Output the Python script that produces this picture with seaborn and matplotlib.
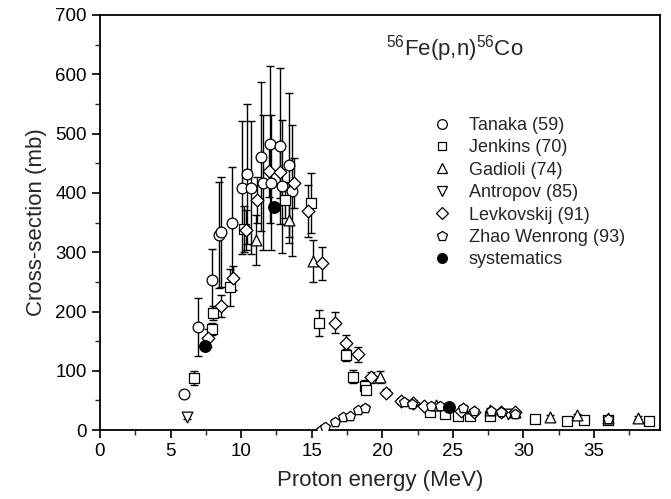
import numpy as np
import pandas as pd
import matplotlib
matplotlib.use("Agg")
import matplotlib.pyplot as plt
from matplotlib.lines import Line2D
from matplotlib.ticker import MultipleLocator
import seaborn as sns

# ---------------- data ----------------
tanaka_x = [5.96, 6.95, 7.95, 8.44, 8.56, 9.34, 10.05, 10.45, 10.73, 11.42, 11.56, 12.05, 12.15, 12.73, 12.93, 13.42, 13.64]
tanaka_y = [61, 174, 253, 329, 334, 349, 409, 432, 409, 461, 417, 482, 417, 479, 411, 447, 404]
tanaka_e = [0, 49, 53, 90, 92, 95, 112, 118, 112, 126, 114, 132, 114, 131, 112, 122, 110]

jenkins_x = [6.67, 7.92, 8.04, 9.22, 10.2, 13.12, 14.94, 15.55, 17.45, 17.92, 18.79, 18.84, 23.4, 24.47, 25.4, 26.24, 27.66, 30.8, 33.1, 34.28, 36.0, 38.9]
jenkins_y = [88, 170, 198, 241, 339, 388, 383, 180, 127, 90, 74, 68, 31, 27, 24, 23, 24, 18, 16, 17, 17, 16]
jenkins_e = [12, 10, 12, 31, 39, 30, 50, 22, 10, 11, 10, 6, 3, 3, 3, 3, 3, 2, 2, 2, 2, 2]

gadioli_x = [11.05, 13.36, 15.08, 19.81, 23.83, 25.72, 27.66, 29.43, 31.9, 33.8, 36.0, 38.1]
gadioli_y = [320, 355, 285, 89, 42, 38, 34, 31, 22, 25, 20, 21]
gadioli_e = [42, 40, 36, 10, 4, 4, 4, 3, 3, 3, 2, 2]

antropov_x = [6.2, 28.9]
antropov_y = [22, 28]
antropov_e = [4, 3]

levk_x = [7.64, 8.56, 9.41, 10.35, 11.11, 12.0, 12.77, 13.76, 14.77, 15.72, 16.64, 17.45, 18.25, 19.22, 20.25, 21.3, 22.15, 22.98, 25.6, 26.48, 28.44, 29.43]
levk_y = [155, 209, 257, 337, 388, 437, 436, 416, 370, 281, 181, 147, 128, 89, 63, 49, 45, 41, 33, 31, 31, 31]
levk_e = [15, 19, 20, 34, 39, 44, 44, 42, 44, 28, 18, 13, 13, 9, 6, 5, 5, 4, 3, 3, 3, 3]

zhao_x = [15.67, 15.96, 16.67, 17.21, 17.73, 18.25, 18.79, 21.56, 22.1, 23.45, 24.1, 25.7, 26.5, 27.7, 28.4, 29.4, 36.0]
zhao_y = [1, 5, 14, 22, 24, 34, 38, 48, 44, 40, 40, 37, 33, 33, 31, 28, 18]
zhao_e = [2, 3, 4, 4, 4, 4, 4, 4, 4, 4, 4, 4, 3, 3, 3, 3, 2]

sys_x = [7.45, 12.3, 24.7]
sys_y = [142, 376, 39]

labels = ["Tanaka (59)", "Jenkins (70)", "Gadioli (74)", "Antropov (85)",
          "Levkovskij (91)", "Zhao Wenrong (93)", "systematics"]

# ---------------- style ----------------
sns.set_theme(style="ticks")
plt.rcParams["font.family"] = ["Liberation Sans", "DejaVu Sans"]
plt.rcParams["mathtext.fontset"] = "custom"
plt.rcParams["mathtext.rm"] = "Liberation Sans"
plt.rcParams["mathtext.it"] = "Liberation Sans"

fig = plt.figure(figsize=(6.71, 4.99), dpi=100)
ax = fig.add_axes([0.149, 0.138, 0.835, 0.832])

series = [
    (tanaka_x, tanaka_y, tanaka_e, "o", 60, "white"),
    (jenkins_x, jenkins_y, jenkins_e, "s", 42, "white"),
    (gadioli_x, gadioli_y, gadioli_e, "^", 60, "white"),
    (antropov_x, antropov_y, antropov_e, "v", 60, "white"),
    (levk_x, levk_y, levk_e, "D", 42, "white"),
    (zhao_x, zhao_y, zhao_e, "p", 55, "white"),
    (sys_x, sys_y, None, "o", 70, "black"),
]

handles = []
for (xs, ys, es, m, s, fc), lab in zip(series, labels):
    df = pd.DataFrame({"E": xs, "XS": ys})
    if es is not None:
        ax.errorbar(xs, ys, yerr=es, fmt="none", ecolor="black",
                    elinewidth=1.0, capsize=3, capthick=1.0, zorder=2)
    sns.scatterplot(data=df, x="E", y="XS", marker=m, s=s, facecolor=fc,
                    edgecolor="black", linewidth=0.9, ax=ax, zorder=3)
    handles.append(Line2D([], [], linestyle="none", marker=m,
                          markersize=7 if m not in ("s", "D") else 6,
                          markerfacecolor=fc, markeredgecolor="black",
                          markeredgewidth=0.9, label=lab))

ax.set_xlim(0, 39.7)
ax.set_ylim(0, 700)
ax.xaxis.set_major_locator(MultipleLocator(5))
ax.xaxis.set_minor_locator(MultipleLocator(2.5))
ax.yaxis.set_major_locator(MultipleLocator(100))
ax.yaxis.set_minor_locator(MultipleLocator(50))
ax.tick_params(which="major", direction="out", length=6, width=1.2,
               labelsize=13.5, colors="black", top=False, right=False)
ax.tick_params(which="minor", direction="out", length=3.5, width=1.0,
               top=False, right=False)
for sp in ax.spines.values():
    sp.set_linewidth(1.3)
    sp.set_color("black")
    sp.set_visible(True)

ax.set_xlabel("Proton energy (MeV)", fontsize=16, labelpad=7)
ax.set_ylabel("Cross-section (mb)", fontsize=16, labelpad=6)

ax.text(0.634, 0.92, r"$^{56}$Fe(p,n)$^{56}$Co", transform=ax.transAxes,
        ha="center", va="center", fontsize=16)

ax.legend(handles=handles, loc="upper left", bbox_to_anchor=(0.578, 0.772),
          frameon=False, fontsize=13, handletextpad=0.9, labelspacing=0.3,
          handlelength=1.2, borderaxespad=0)

fig.savefig("out.png", dpi=100)
